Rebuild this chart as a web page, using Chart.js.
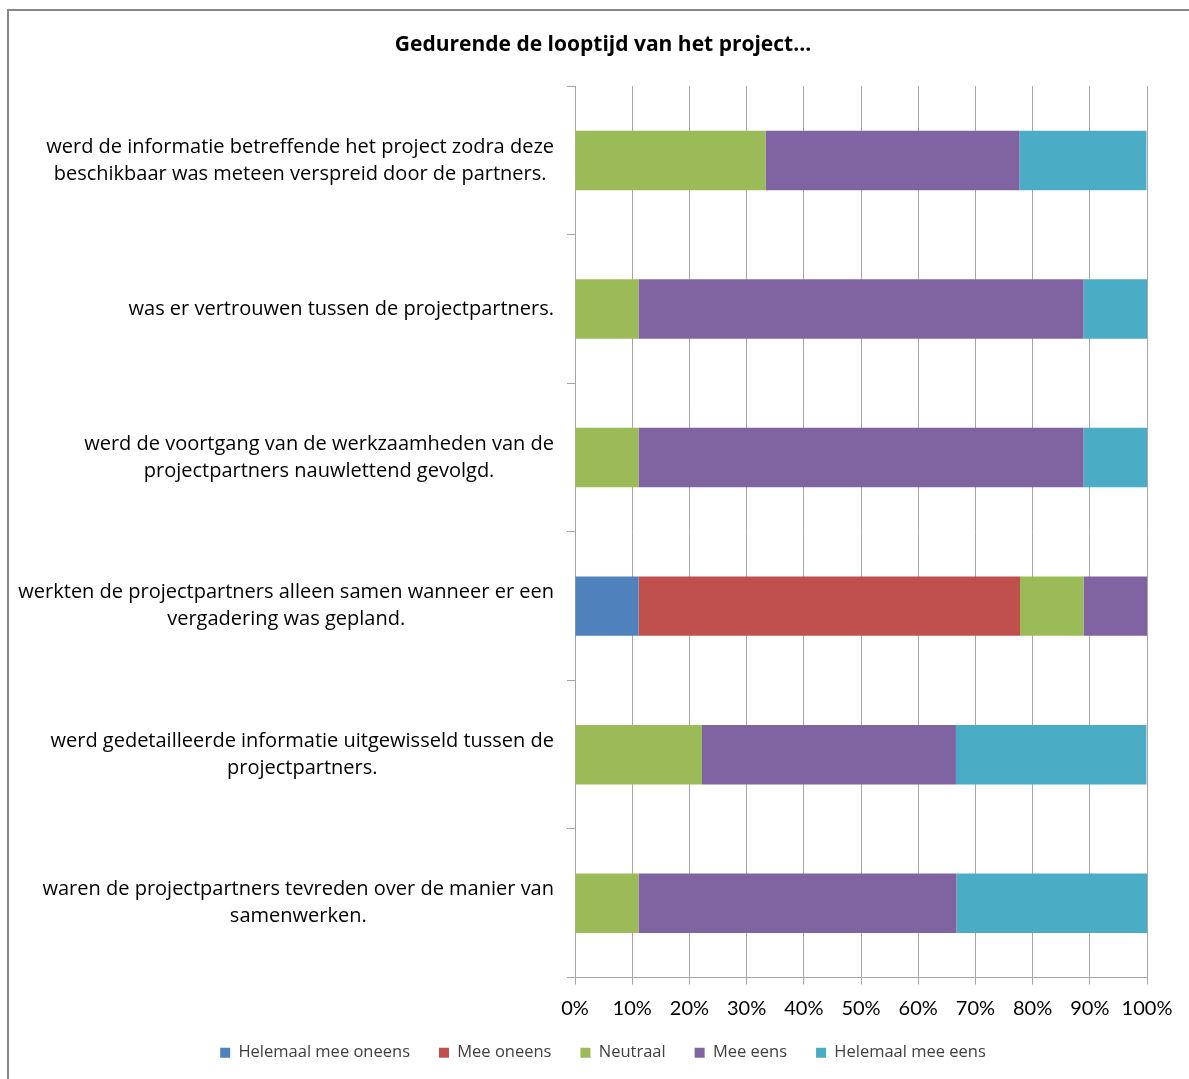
<!DOCTYPE html>
<html>
<head>
<meta charset="utf-8">
<script src="https://cdn.jsdelivr.net/npm/chart.js@4"></script>
<style>
  html, body { margin: 0; padding: 0; background: #fff; }
  #wrap { width: 1189px; height: 1079px; }
</style>
</head>
<body>
<div id="wrap"><canvas id="myChart" width="1189" height="1079"></canvas></div>
<script>
const statements = [
  ['werd de informatie betreffende het project zodra deze', 'beschikbaar was meteen verspreid door de partners.'],
  ['was er vertrouwen tussen de projectpartners.'],
  ['werd de voortgang van de werkzaamheden van de', 'projectpartners nauwlettend gevolgd.'],
  ['werkten de projectpartners alleen samen wanneer er een', 'vergadering was gepland.'],
  ['werd gedetailleerde informatie uitgewisseld tussen de', 'projectpartners.'],
  ['waren de projectpartners tevreden over de manier van', 'samenwerken.']
]

// percentages per statement
const helemaalOneens = [0, 0, 0, 11.1, 0, 0]
const meeOneens = [0, 0, 0, 66.7, 0, 0]
const neutraal = [33.3, 11.1, 11.1, 11.1, 22.2, 11.1]
const meeEens = [44.4, 77.8, 77.8, 11.1, 44.4, 55.6]
const helemaalEens = [22.2, 11.1, 11.1, 0, 33.3, 33.3]

const xTicks = [0, 10, 20, 30, 40, 50, 60, 70, 80, 90, 100]

const labelFont = '"Open Sans", sans-serif'
const tickFont = 'Lato, sans-serif'

// white background, grey frame, and y labels centred line by line
const extrasPlugin = {
  id: 'extras',
  beforeDraw (chart) {
    const ctx = chart.ctx
    ctx.save()
    ctx.fillStyle = '#fff'
    ctx.fillRect(0, 0, chart.width, chart.height)
    ctx.strokeStyle = '#868686'
    ctx.lineWidth = 2
    ctx.strokeRect(8, 10, 1300, 1300)

    const items = chart.scales.y.getLabelItems()
    items.forEach(item => {
      if (item._centered) return
      ctx.font = item.font.string
      const lines = Array.isArray(item.label) ? item.label : [item.label]
      const w = Math.max(...lines.map(l => ctx.measureText(l).width))
      item.options.textAlign = 'center'
      item.options.translation[0] -= w / 2
      item._centered = true
    })
    ctx.restore()
  }
}

const ctx = document.getElementById('myChart')
new Chart(ctx, {
  type: 'bar',
  plugins: [extrasPlugin],
  data: {
    labels: statements,
    datasets: [
      { label: 'Helemaal mee oneens', data: helemaalOneens, backgroundColor: '#4F81BD' },
      { label: 'Mee oneens', data: meeOneens, backgroundColor: '#C0504D' },
      { label: 'Neutraal', data: neutraal, backgroundColor: '#9BBB59' },
      { label: 'Mee eens', data: meeEens, backgroundColor: '#8064A2' },
      { label: 'Helemaal mee eens', data: helemaalEens, backgroundColor: '#4BACC6' }
    ]
  },
  options: {
    indexAxis: 'y',
    responsive: false,
    animation: false,
    categoryPercentage: 1,
    barPercentage: 0.4,
    layout: { padding: { top: 0, right: 42, bottom: 8, left: 59 } },
    plugins: {
      title: {
        display: true,
        text: 'Gedurende de looptijd van het project...',
        color: '#000',
        font: { family: labelFont, size: 21, weight: 'bold' },
        padding: { top: 32, bottom: 29 }
      },
      legend: {
        position: 'bottom',
        labels: {
          boxWidth: 10,
          boxHeight: 10,
          padding: 29,
          color: '#404040',
          font: { family: labelFont, size: 16.5 }
        }
      },
      tooltip: { enabled: false }
    },
    scales: {
      x: {
        stacked: true,
        min: 0,
        max: 100,
        afterBuildTicks (scale) {
          scale.ticks = xTicks.map(v => ({ value: v }))
        },
        afterFit (scale) {
          scale.height = 38
        },
        ticks: {
          color: '#000',
          padding: 12,
          font: { family: tickFont, size: 20 },
          callback: v => v + '%'
        },
        grid: { color: '#a6a6a6', tickLength: 7, lineWidth: 1 },
        border: { color: '#a6a6a6' }
      },
      y: {
        stacked: true,
        afterFit (scale) {
          scale.width = 516
          // long labels reach past the left padding; do not clip them
          scale._computeLabelArea = () => null
        },
        ticks: {
          color: '#000',
          padding: 13,
          font: { family: labelFont, size: 20, lineHeight: 1.35 }
        },
        grid: { drawOnChartArea: false, offset: true, color: '#a6a6a6', tickLength: 8 },
        border: { color: '#a6a6a6' }
      }
    }
  }
})
</script>
</body>
</html>
